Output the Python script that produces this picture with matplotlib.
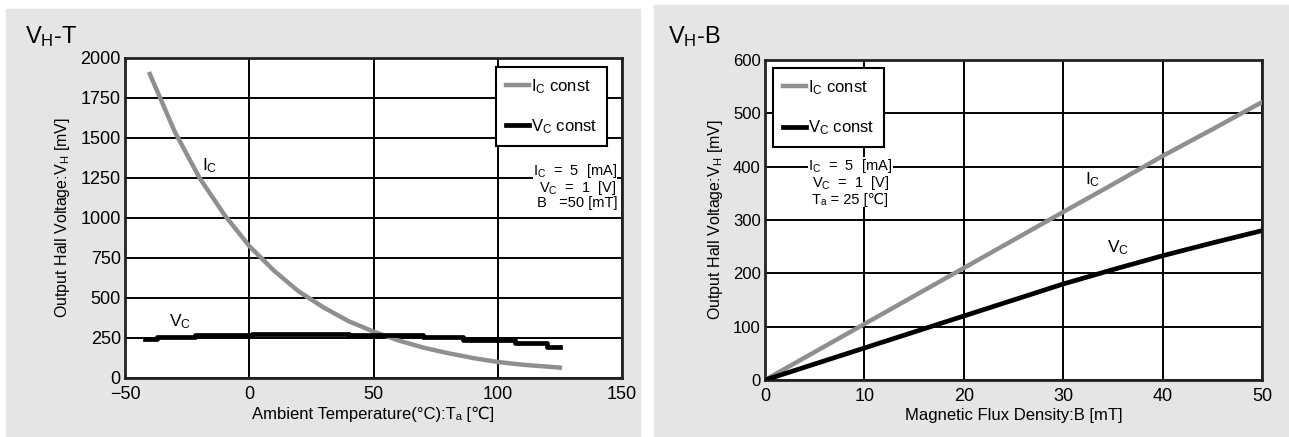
import matplotlib.pyplot as plt
from matplotlib.patches import Rectangle

# V_H - T data
temp_ic = [-40, -30, -20, -10, 0, 10, 20, 30, 40, 50, 60, 70, 80, 90, 100, 110, 125]
vh_ic_t = [1900, 1540, 1250, 1020, 825, 670, 540, 440, 355, 290, 235, 190, 155, 125, 100, 83, 65]
temp_vc = [-42, -37, -22, 1, 40, 70, 86, 107, 120, 125]
vh_vc_t = [243, 258, 269, 278, 269, 256, 237, 219, 194, 194]

# V_H - B data
flux = [0, 10, 20, 30, 35, 40, 45, 50]
vh_ic_b = [0, 105, 210, 315, 367, 420, 470, 521]
vh_vc_b = [0, 60, 120, 180, 207, 233, 257, 280]

GRAY = '#8f8f8f'
PANEL = '#e5e5e5'

plt.rcParams['font.family'] = ['Liberation Sans', 'DejaVu Sans']
plt.rcParams['mathtext.fontset'] = 'custom'
plt.rcParams['mathtext.rm'] = 'Liberation Sans'

fig = plt.figure(figsize=(12.89, 4.37), dpi=100)
fig.patch.set_facecolor('white')
fig.patches.append(Rectangle((6 / 1289, 0), 634 / 1289, 428 / 437,
                             transform=fig.transFigure, color=PANEL, zorder=-10))
fig.patches.append(Rectangle((654 / 1289, 0), 635 / 1289, 432 / 437,
                             transform=fig.transFigure, color=PANEL, zorder=-10))

ax1 = fig.add_axes([125 / 1289, 1 - 378 / 437, 497 / 1289, 320 / 437])
ax2 = fig.add_axes([765 / 1289, 1 - 380 / 437, 497 / 1289, 320 / 437])

WHITE_BOX = dict(facecolor='white', edgecolor='none', pad=0.3)


def style(ax, ysize, xsize):
    ax.set_facecolor('white')
    ax.grid(True, color='black', linewidth=1.4)
    for sp in ax.spines.values():
        sp.set_linewidth(2)
        sp.set_color('#222222')
    ax.tick_params(length=0)
    ax.tick_params(axis='x', pad=6, labelsize=xsize)
    ax.tick_params(axis='y', pad=3, labelsize=ysize)


# ---- left: V_H - T
ax1.plot(temp_ic, vh_ic_t, color=GRAY, linewidth=3.2, label=r'$\mathregular{I_C}$ const', zorder=3)
ax1.plot(temp_vc, vh_vc_t, color='black', linewidth=3.4, drawstyle='steps-post',
         label=r'$\mathregular{V_C}$ const', zorder=3)
ax1.set_xlim(-50, 150)
ax1.set_ylim(0, 2000)
ax1.set_xticks([-50, 0, 50, 100, 150])
ax1.set_xticklabels(['\u221250', '0', '50', '100', '150'])
ax1.set_yticks(range(0, 2001, 250))
style(ax1, 13, 13)
ax1.set_xlabel('Ambient Temperature(\u00b0C):T\u2090 [\u2103]', fontsize=12, labelpad=2)
ax1.set_ylabel('Output Hall Voltage:V$\\mathregular{_H}$ [mV]', fontsize=11.5, labelpad=6)
ax1.text(-16, 1330, r'$\mathregular{I_C}$', fontsize=12.5, ha='center', va='center')
ax1.text(-28, 355, r'$\mathregular{V_C}$', fontsize=12.5, ha='center', va='center')
ax1.text(148, 1200, '$\\mathregular{I_C}$  =  5  [mA]\n$\\mathregular{V_C}$  =  1  [V]\nB   =50 [mT]',
         fontsize=10.5, ha='right', va='center', linespacing=0.95,
         bbox=WHITE_BOX, zorder=4)
leg1 = ax1.legend(loc='upper left', bbox_to_anchor=(0.746, 0.972), borderaxespad=0,
                  fancybox=False, edgecolor='black', framealpha=1, fontsize=12,
                  handlelength=1.4, handletextpad=0.1, labelspacing=1.3, borderpad=0.6)
leg1.get_frame().set_linewidth(1.5)
fig.text(25 / 1289, 1 - 37 / 437, r'$\mathregular{V_H}$-T', fontsize=17, va='center')

# ---- right: V_H - B
ax2.plot(flux, vh_ic_b, color=GRAY, linewidth=3.2, label=r'$\mathregular{I_C}$ const', zorder=3)
ax2.plot(flux, vh_vc_b, color='black', linewidth=3.4, label=r'$\mathregular{V_C}$ const', zorder=3)
ax2.set_xlim(0, 50)
ax2.set_ylim(0, 600)
ax2.set_xticks(range(0, 51, 10))
ax2.set_yticks(range(0, 601, 100))
style(ax2, 12, 13)
ax2.set_xlabel('Magnetic Flux Density:B [mT]', fontsize=12, labelpad=2)
ax2.set_ylabel('Output Hall Voltage:V$\\mathregular{_H}$ [mV]', fontsize=11.5, labelpad=6)
ax2.text(33, 375, r'$\mathregular{I_C}$', fontsize=12.5, ha='center', va='center')
ax2.text(35.5, 248, r'$\mathregular{V_C}$', fontsize=12.5, ha='center', va='center')
ax2.text(8.6, 385, '$\\mathregular{I_C}$  =  5  [mA]\n$\\mathregular{V_C}$  =  1  [V]',
         fontsize=10.5, ha='center', va='center', linespacing=0.95,
         bbox=WHITE_BOX, zorder=4)
ax2.text(8.6, 338, 'T\u2090 = 25 [\u2103]', fontsize=10.5, ha='center', va='center',
         bbox=WHITE_BOX, zorder=4)
leg2 = ax2.legend(loc='upper left', bbox_to_anchor=(0.016, 0.975), borderaxespad=0,
                  fancybox=False, edgecolor='black', framealpha=1, fontsize=12,
                  handlelength=1.4, handletextpad=0.1, labelspacing=1.3, borderpad=0.6)
leg2.get_frame().set_linewidth(1.5)
fig.text(668 / 1289, 1 - 37 / 437, r'$\mathregular{V_H}$-B', fontsize=17, va='center')

fig.savefig('out.png', dpi=100)
